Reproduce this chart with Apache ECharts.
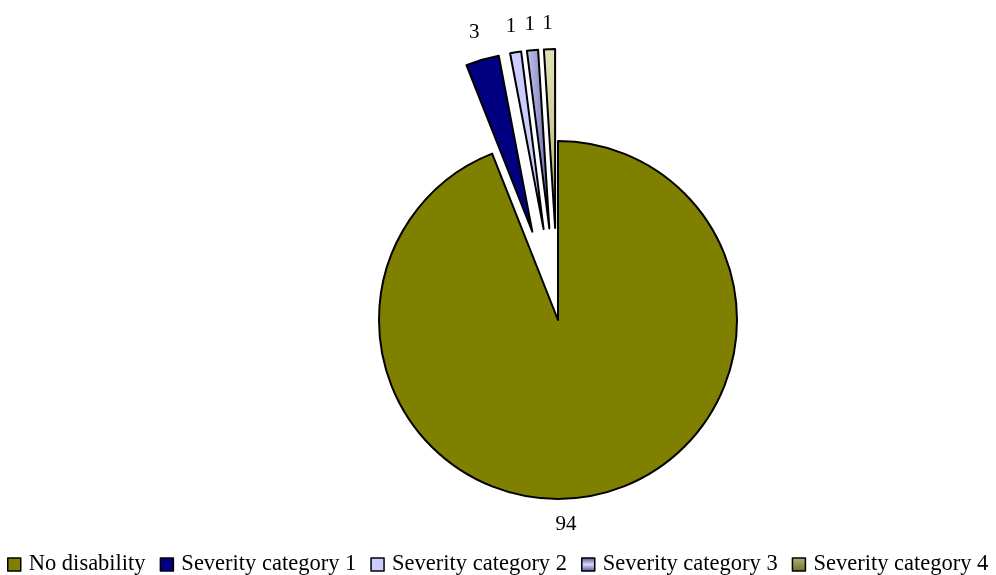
<!DOCTYPE html>
<html>
<head>
<meta charset="utf-8">
<script src="https://cdn.jsdelivr.net/npm/echarts@6/dist/echarts.min.js"></script>
<style>
  html, body { margin: 0; padding: 0; background: #fff; }
  #chart { width: 996px; height: 575px; }
</style>
</head>
<body>
<div id="chart"></div>
<script>
// Share of respondents by disability severity (percent)
const categories = ['No disability', 'Severity category 1', 'Severity category 2', 'Severity category 3', 'Severity category 4'];
const values = [94, 3, 1, 1, 1];
const exploded = [false, true, true, true, true];

const grad = (x2, y2, stops) => ({
  type: 'linear', x: 0, y: 0, x2: x2, y2: y2,
  colorStops: stops.map(([o, c]) => ({ offset: o, color: c }))
});

const sliceFills = [
  '#808000',
  '#000080',
  '#CCCCFF',
  grad(1, 0, [[0, '#C8C8EE'], [0.5, '#9A9AD0'], [1, '#5A5AA0']]),
  grad(0, 1, [[0, '#E2E2B8'], [0.6, '#C4C490'], [1, '#7E7E3A']])
];
const legendFills = [
  '#808000',
  '#000080',
  '#CCCCFF',
  grad(0, 1, [[0, '#4A4A98'], [0.5, '#D8D8F4'], [1, '#4A4A98']]),
  grad(0, 1, [[0, '#B4B47A'], [1, '#6E6E2E']])
];
// small nudges for the value labels (px)
const labelNudgeX = [-36, 5, 5, 5, 4];
const labelNudgeY = [0, 1, 3, 3, 3];

const chart = echarts.init(document.getElementById('chart'), null, { renderer: 'canvas' });

chart.setOption({
  animation: false,
  backgroundColor: '#ffffff',
  textStyle: { fontFamily: '"Liberation Serif", "Times New Roman", serif' },
  legend: {
    top: 553,
    left: 7,
    width: 989,
    padding: 0,
    itemWidth: 13,
    itemHeight: 13,
    itemGap: 14,
    icon: 'rect',
    selectedMode: false,
    textStyle: { fontSize: 22.5, color: '#000', fontFamily: '"Liberation Serif", serif', padding: [0, 0, 0, 3] },
    data: categories.map((name, i) => ({
      name,
      itemStyle: { color: legendFills[i], borderColor: '#000', borderWidth: 1.5 }
    }))
  },
  series: [{
    type: 'pie',
    center: [558, 320],
    radius: 179,
    startAngle: 90,
    clockwise: true,
    selectedMode: 'multiple',
    selectedOffset: 92,
    avoidLabelOverlap: false,
    emphasis: { disabled: true },
    select: { itemStyle: { borderColor: '#000', borderWidth: 2 } },
    label: {
      show: true,
      position: 'outside',
      formatter: '{c}',
      fontSize: 21,
      color: '#000',
      fontFamily: '"Liberation Serif", serif'
    },
    labelLine: { show: false, length: 29, length2: 0 },
    labelLayout: function (p) {
      return {
        align: 'center',
        verticalAlign: 'middle',
        dx: labelNudgeX[p.dataIndex],
        dy: labelNudgeY[p.dataIndex]
      };
    },
    itemStyle: { borderColor: '#000', borderWidth: 2 },
    data: categories.map((name, i) => ({
      name,
      value: values[i],
      selected: exploded[i],
      itemStyle: { color: sliceFills[i] }
    }))
  }]
});
</script>
</body>
</html>
